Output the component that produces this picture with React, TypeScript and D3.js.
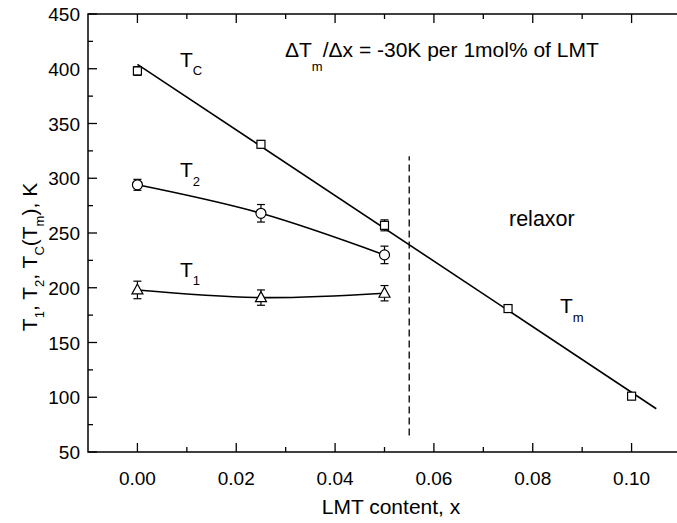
import React from "react";
import * as d3 from "d3";

const tcX = [0, 0.025, 0.05, 0.075, 0.1];
const tcValues = [398, 331, 257, 181, 101];
const tcErr = [4, 3, 5, 3, 3];
const t2X = [0, 0.025, 0.05];
const t2Values = [294, 268, 230];
const t2Err = [5, 8, 8];
const t1X = [0, 0.025, 0.05];
const t1Values = [198, 191, 195];
const t1Err = [8, 7, 7];
const fitX = [0, 0.105];
const fitT = [404, 89.5];
const dashX = 0.055;
const dashT = [65, 320];
const xMajor = [0, 0.02, 0.04, 0.06, 0.08, 0.1];
const xMinor = [0.01, 0.03, 0.05, 0.07, 0.09];
const yMajor = [50, 100, 150, 200, 250, 300, 350, 400, 450];
const yMinor = [75, 125, 175, 225, 275, 325, 375, 425];

const W = 677, H = 523;
const FONT = "Arial, 'Liberation Sans', Helvetica, sans-serif";

export default function App() {
  const x = d3.scaleLinear().domain([-0.01, 0.11]).range([88, 681]);
  const y = d3.scaleLinear().domain([50, 450]).range([452, 14]);
  const [x0, x1] = x.range();
  const [yb, yt] = y.range();
  const fitLine = d3.line<number>().x((_, i) => x(fitX[i])).y((d) => y(d));
  const curve = (xs: number[]) =>
    d3.line<number>().x((_, i) => x(xs[i])).y((d) => y(d)).curve(d3.curveNatural);

  const errBars = (xs: number[], vs: number[], es: number[]) =>
    vs.map((v, i) => {
      const cx = x(xs[i]);
      const t = y(v + es[i]);
      const b = y(v - es[i]);
      return (
        <g key={i} stroke="#000" strokeWidth={1.2}>
          <line x1={cx} x2={cx} y1={t} y2={b} />
          <line x1={cx - 4} x2={cx + 4} y1={t} y2={t} />
          <line x1={cx - 4} x2={cx + 4} y1={b} y2={b} />
        </g>
      );
    });

  return (
    <svg width={W} height={H} style={{ position: "absolute", left: 0, top: 0 }} fontFamily={FONT}>
      <rect x={0} y={0} width={W} height={H} fill="#fff" />
      {/* frame */}
      <rect x={x0} y={yt} width={x1 - x0} height={yb - yt} fill="none" stroke="#000" strokeWidth={1.5} />
      {/* x ticks */}
      {xMajor.map((t) => (
        <g key={"xm" + t}>
          <line x1={x(t)} x2={x(t)} y1={yb} y2={yb - 9} stroke="#000" strokeWidth={1.3} />
          <line x1={x(t)} x2={x(t)} y1={yt} y2={yt + 9} stroke="#000" strokeWidth={1.3} />
          <text x={x(t)} y={485} textAnchor="middle" fontSize={19}>{d3.format(".2f")(t)}</text>
        </g>
      ))}
      {xMinor.map((t) => (
        <g key={"xn" + t}>
          <line x1={x(t)} x2={x(t)} y1={yb} y2={yb - 5} stroke="#000" strokeWidth={1.3} />
          <line x1={x(t)} x2={x(t)} y1={yt} y2={yt + 5} stroke="#000" strokeWidth={1.3} />
        </g>
      ))}
      {/* y ticks */}
      {yMajor.map((t) => (
        <g key={"ym" + t}>
          <line x1={x0} x2={x0 + 9} y1={y(t)} y2={y(t)} stroke="#000" strokeWidth={1.3} />
          <text x={80} y={y(t) + 7} textAnchor="end" fontSize={19}>{t}</text>
        </g>
      ))}
      {yMinor.map((t) => (
        <line key={"yn" + t} x1={x0} x2={x0 + 5} y1={y(t)} y2={y(t)} stroke="#000" strokeWidth={1.3} />
      ))}
      {/* axis titles */}
      <text x={391} y={514} textAnchor="middle" fontSize={21}>LMT content, x</text>
      <text transform="translate(37,257) rotate(-90)" textAnchor="middle" fontSize={21}>
        T<tspan fontSize={13} dy={7}>1</tspan><tspan dy={-7}>, T</tspan><tspan fontSize={13} dy={7}>2</tspan>
        <tspan dy={-7}>, T</tspan><tspan fontSize={13} dy={7}>C</tspan><tspan dy={-7}>(T</tspan>
        <tspan fontSize={13} dy={7}>m</tspan><tspan dy={-7}>), K</tspan>
      </text>
      {/* dashed boundary */}
      <line x1={x(dashX)} x2={x(dashX)} y1={y(dashT[0])} y2={y(dashT[1])} stroke="#000" strokeWidth={1.3} strokeDasharray="7,4" />
      {/* lines */}
      <path d={fitLine(fitT) || ""} fill="none" stroke="#000" strokeWidth={1.6} />
      <path d={curve(t2X)(t2Values) || ""} fill="none" stroke="#000" strokeWidth={1.6} />
      <path d={curve(t1X)(t1Values) || ""} fill="none" stroke="#000" strokeWidth={1.6} />
      {/* error bars */}
      {errBars(tcX, tcValues, tcErr)}
      {errBars(t2X, t2Values, t2Err)}
      {errBars(t1X, t1Values, t1Err)}
      {/* markers */}
      {tcValues.map((v, i) => (
        <rect key={"sq" + i} x={x(tcX[i]) - 4} y={y(v) - 4} width={8} height={8} fill="#fff" stroke="#000" strokeWidth={1.2} />
      ))}
      {t2Values.map((v, i) => (
        <circle key={"ci" + i} cx={x(t2X[i])} cy={y(v)} r={5} fill="#fff" stroke="#000" strokeWidth={1.2} />
      ))}
      {t1Values.map((v, i) => {
        const cx = x(t1X[i]), cy = y(v);
        return (
          <path key={"tr" + i} d={`M${cx},${cy - 6}L${cx + 5.5},${cy + 4}L${cx - 5.5},${cy + 4}Z`} fill="#fff" stroke="#000" strokeWidth={1.2} />
        );
      })}
      {/* labels */}
      <text x={180} y={67} fontSize={21}>T<tspan fontSize={13} dy={8}>C</tspan></text>
      <text x={180} y={177} fontSize={21}>T<tspan fontSize={13} dy={9}>2</tspan></text>
      <text x={180} y={277} fontSize={21}>T<tspan fontSize={13} dy={8}>1</tspan></text>
      <text x={560} y={313} fontSize={21}>T<tspan fontSize={13} dy={9}>m</tspan></text>
      <text x={509} y={226} fontSize={21.5}>relaxor</text>
      <text x={285} y={57} fontSize={21}>
        ΔT<tspan fontSize={13} dy={14}>m</tspan><tspan dy={-14}>/Δx = -30K per 1mol% of LMT</tspan>
      </text>
    </svg>
  );
}
